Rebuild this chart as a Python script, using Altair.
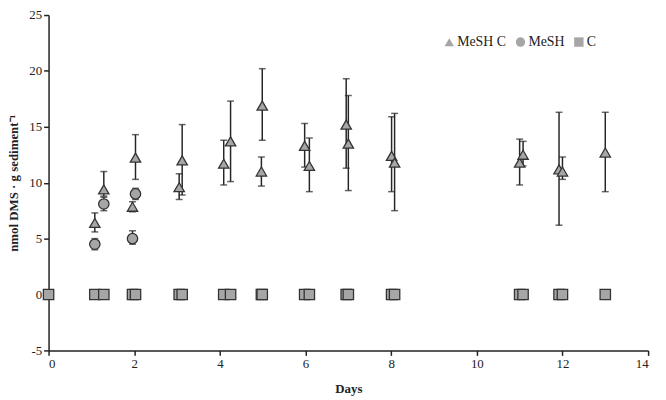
import altair as alt
import pandas as pd

# MeSH C (triangles): day, mean, lower, upper
tri_day = [1.08, 1.29, 1.96, 2.03, 3.05, 3.12, 4.09, 4.25, 4.97, 4.99, 5.98, 6.09, 6.95, 7.0, 8.01, 8.08, 11.0, 11.08, 11.92, 12.0, 13.0]
tri_val = [6.4, 9.4, 7.85, 12.25, 9.6, 12.0, 11.7, 13.7, 11.0, 16.9, 13.3, 11.5, 15.2, 13.5, 12.4, 11.8, 11.8, 12.5, 11.2, 11.0, 12.7]
tri_lo = [5.6, 8.8, 7.4, 10.3, 8.5, 8.9, 9.8, 10.1, 9.7, 13.8, 11.4, 9.2, 11.3, 9.3, 9.2, 7.5, 9.8, 11.5, 6.2, 10.3, 9.2]
tri_hi = [7.3, 11.0, 8.3, 14.3, 10.8, 15.2, 13.8, 17.3, 12.3, 20.2, 15.3, 14.0, 19.3, 17.8, 15.9, 16.2, 13.9, 13.7, 16.3, 12.3, 16.3]

# MeSH (circles)
cir_day = [1.08, 1.29, 1.96, 2.03]
cir_val = [4.5, 8.1, 5.0, 9.0]
cir_lo = [4.0, 7.5, 4.5, 8.5]
cir_hi = [5.0, 8.7, 5.7, 9.5]

# C (squares)
sq_day = [0, 1.08, 1.29, 1.96, 2.03, 3.05, 3.12, 4.09, 4.25, 4.97, 4.99, 5.98, 6.09, 6.95, 7.0, 8.01, 8.08, 11.0, 11.08, 11.92, 12.0, 13.0]
sq_val = [0] * len(sq_day)

series = ["MeSH C", "MeSH", "C"]
shapes = ["triangle-up", "circle", "square"]

rows = []
for d, v, lo, hi in zip(tri_day, tri_val, tri_lo, tri_hi):
    rows.append(dict(day=d, val=v, lo=lo, hi=hi, series="MeSH C", order=3))
for d, v, lo, hi in zip(cir_day, cir_val, cir_lo, cir_hi):
    rows.append(dict(day=d, val=v, lo=lo, hi=hi, series="MeSH", order=2))
for d, v in zip(sq_day, sq_val):
    rows.append(dict(day=d, val=v, lo=v, hi=v, series="C", order=1))
df = pd.DataFrame(rows)
err = df[df.series != "C"]

FONT = "Times New Roman, Liberation Serif, serif"
xs = alt.Scale(domain=[0, 14], nice=False)
ys = alt.Scale(domain=[-5, 25], nice=False)

x_enc = alt.X("day:Q", scale=xs,
              axis=alt.Axis(title="Days", values=list(range(0, 15, 2)), grid=False,
                            labelExpr="'' + datum.value"))
y_enc = alt.Y("val:Q", scale=ys,
              axis=alt.Axis(title="nmol DMS · g sediment⁻¹", values=list(range(-5, 26, 5)), grid=False,
                            labelExpr="'' + datum.value"))

rules = alt.Chart(err).mark_rule(color="#262626", strokeWidth=1.5).encode(
    x=alt.X("day:Q", scale=xs),
    y=alt.Y("lo:Q", scale=ys),
    y2="hi:Q",
)
cap_lo = alt.Chart(err).mark_tick(color="#262626", thickness=1.5, size=7, orient="horizontal").encode(
    x=alt.X("day:Q", scale=xs), y=alt.Y("lo:Q", scale=ys))
cap_hi = alt.Chart(err).mark_tick(color="#262626", thickness=1.5, size=7, orient="horizontal").encode(
    x=alt.X("day:Q", scale=xs), y=alt.Y("hi:Q", scale=ys))

points = alt.Chart(df).mark_point(filled=True, fill="#a6a6a6", stroke="#333333",
                                   strokeWidth=1.3, opacity=1, size=110).encode(
    x=x_enc,
    y=y_enc,
    shape=alt.Shape("series:N", scale=alt.Scale(domain=series, range=shapes),
                    legend=alt.Legend(title=None, orient="none", direction="horizontal",
                                      legendX=398, legendY=20, symbolFillColor="#a6a6a6",
                                      symbolStrokeColor="#333333", symbolStrokeWidth=1.3,
                                      symbolSize=90, labelFont=FONT, labelFontSize=14,
                                      labelColor="#222222", labelOffset=1, columnPadding=6)),
    order=alt.Order("order:Q"),
)

chart = alt.layer(rules, cap_lo, cap_hi, points).properties(
    width=606, height=339,
    autosize=alt.AutoSizeParams(type="none"),
    padding={"left": 41, "top": 5, "right": 10, "bottom": 46},
).configure_axis(
    labelFont=FONT, labelFontSize=13, labelColor="#222222",
    titleFont=FONT, titleFontSize=13, titleFontWeight="bold", titleColor="#222222",
    domainColor="#222222", domainWidth=1.5, tickColor="#222222", tickWidth=1.5, tickSize=5,
).configure_axisY(titlePadding=8).configure_axisX(titlePadding=13).configure_view(stroke=None)

chart.save("out.html", embed_options={"renderer": "svg", "actions": False})
